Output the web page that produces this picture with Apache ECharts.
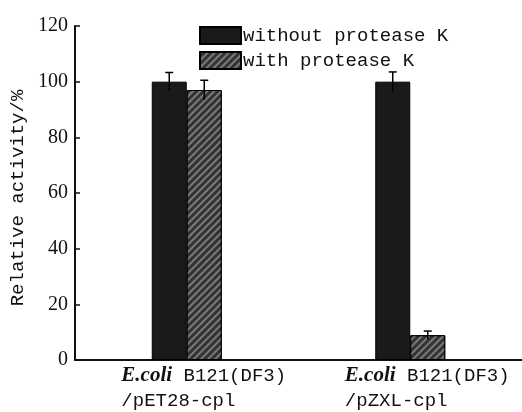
<!DOCTYPE html>
<html>
<head>
<meta charset="utf-8">
<script src="https://cdn.jsdelivr.net/npm/echarts@6/dist/echarts.min.js"></script>
<style>
  html, body { margin: 0; padding: 0; background: #fff; }
  #chart { width: 522px; height: 412px; }
</style>
</head>
<body>
<div id="chart"></div>
<script>
// data
var strains = ['pET28-cpl', 'pZXL-cpl']
var host = 'B121(DF3)'
var withoutK = [100, 100]
var withK = [97, 8.9]
var withoutErr = [3.3, 3.5]
var withErr = [3.5, 1.5]
var seriesNames = ['without protease K', 'with protease K']
var yTicks = [0, 20, 40, 60, 80, 100, 120]

var mono = 'Liberation Mono'
var barW = 35

var chart = echarts.init(document.getElementById('chart'))

function errItem(offsetSign) {
  return function (params, api) {
    var cat = api.value(0)
    var top = api.coord([cat, api.value(1) + api.value(2)])
    var bot = api.coord([cat, api.value(1) - api.value(2)])
    var x = top[0] + offsetSign * barW / 2
    var style = { stroke: '#000', lineWidth: 1.5 }
    return {
      type: 'group',
      children: [
        { type: 'line', shape: { x1: x, y1: top[1], x2: x, y2: bot[1] }, style: style },
        { type: 'line', shape: { x1: x - 4, y1: top[1], x2: x + 4, y2: top[1] }, style: style }
      ]
    }
  }
}

// second line is padded so both lines start at the same x (mono font)
function catLabel(v) {
  var l2 = '/' + v
  var first = ' ' + host
  while (l2.length < first.length) l2 += ' '
  return '{sp| }{it|E.coli}{m|' + first + '}\n{sp| }{m|' + l2 + '}{ghost|E.coli}'
}

var italic = { fontFamily: 'Liberation Serif', fontStyle: 'italic', fontWeight: 'bold', fontSize: 21, lineHeight: 25 }

chart.setOption({
  animation: false,
  grid: { left: 75, right: 0, top: 26, bottom: 52 },
  legend: {
    data: seriesNames,
    orient: 'vertical',
    icon: 'rect',
    left: 199,
    top: 26,
    padding: 0,
    itemWidth: 41,
    itemHeight: 17,
    itemGap: 6,
    textStyle: { fontFamily: mono, fontSize: 19, color: '#111', padding: [0, 0, 0, -3] }
  },
  xAxis: {
    type: 'category',
    data: strains,
    axisLine: { lineStyle: { color: '#111', width: 2 } },
    axisTick: { show: false },
    axisLabel: {
      interval: 0,
      hideOverlap: false,
      margin: 3,
      formatter: catLabel,
      rich: {
        sp: { width: 34, fontSize: 19, fontFamily: mono, lineHeight: 25 },
        it: Object.assign({ color: '#111' }, italic),
        ghost: Object.assign({ color: 'rgba(0,0,0,0)' }, italic),
        m: { fontFamily: mono, fontSize: 19, color: '#111', lineHeight: 25 }
      }
    }
  },
  yAxis: {
    type: 'value',
    min: yTicks[0],
    max: yTicks[yTicks.length - 1],
    interval: 20,
    name: 'Relative activity/%',
    nameLocation: 'middle',
    nameGap: 42,
    nameTextStyle: { fontFamily: mono, fontSize: 19, color: '#111', padding: [0, 0, 0, -10] },
    axisLine: { show: true, lineStyle: { color: '#111', width: 2 } },
    axisTick: { show: true, inside: true, length: 5, lineStyle: { color: '#111', width: 1.5 } },
    splitLine: { show: false },
    axisLabel: { fontFamily: 'Liberation Serif', fontSize: 20, color: '#111', margin: 7 }
  },
  series: [
    {
      name: seriesNames[0],
      type: 'bar',
      data: withoutK,
      barWidth: barW,
      barGap: '0%',
      itemStyle: { color: '#1a1a1a', borderColor: '#000', borderWidth: 1 }
    },
    {
      name: seriesNames[1],
      type: 'bar',
      data: withK,
      barWidth: barW,
      itemStyle: {
        color: '#333',
        borderColor: '#000',
        borderWidth: 1,
        decal: {
          symbol: 'rect',
          symbolSize: 1,
          color: '#7a7a7a',
          dashArrayX: [1, 0],
          dashArrayY: [1.5, 2.5],
          rotation: -Math.PI / 4
        }
      }
    },
    {
      type: 'custom',
      renderItem: errItem(-1),
      data: withoutK.map(function (v, i) { return [i, v, withoutErr[i]] }),
      z: 10
    },
    {
      type: 'custom',
      renderItem: errItem(1),
      data: withK.map(function (v, i) { return [i, v, withErr[i]] }),
      z: 10
    }
  ]
})
</script>
</body>
</html>
